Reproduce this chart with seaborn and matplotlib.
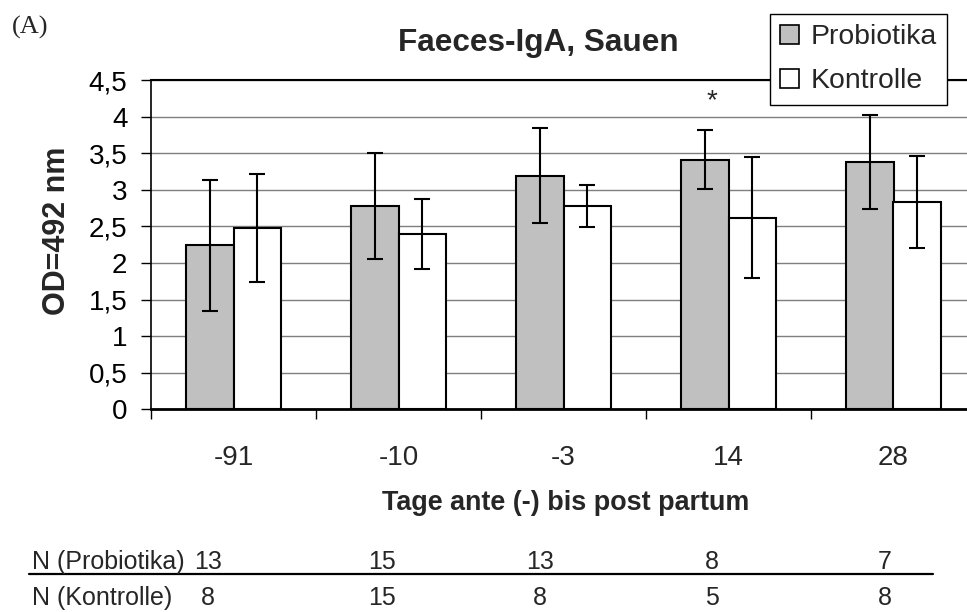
import numpy as np
import pandas as pd
import matplotlib
matplotlib.use("Agg")
import matplotlib.pyplot as plt
from matplotlib.patches import Patch
from matplotlib.lines import Line2D
from matplotlib.ticker import FuncFormatter
import seaborn as sns

# ---- data -------------------------------------------------------------
days = ["-91", "-10", "-3", "14", "28"]
groups = ["Probiotika", "Kontrolle"]
mean_probiotika = [2.24, 2.78, 3.19, 3.41, 3.38]
mean_kontrolle = [2.48, 2.40, 2.78, 2.62, 2.83]
sd_probiotika = [0.89, 0.72, 0.65, 0.40, 0.64]
sd_kontrolle = [0.74, 0.48, 0.29, 0.83, 0.63]
n_probiotika = [13, 15, 13, 8, 7]
n_kontrolle = [8, 15, 8, 5, 8]
significant_day = "14"

# ---- layout -----------------------------------------------------------
W, H = 967, 612
n_col_px = [208, 382, 540, 712, 885]  # x centres of the N columns

sns.set_style("white")
plt.rcParams["font.family"] = ["Liberation Sans", "DejaVu Sans"]

df = pd.DataFrame({
    "Tag": days * 2,
    "Gruppe": [groups[0]] * len(days) + [groups[1]] * len(days),
    "OD": mean_probiotika + mean_kontrolle,
})

fig = plt.figure(figsize=(W / 100, H / 100), dpi=100)
ax_left, ax_bottom, ax_top = 151, 409.3, 80
ax_w = 825
ax = fig.add_axes([ax_left / W, 1 - ax_bottom / H, ax_w / W, (ax_bottom - ax_top) / H])

sns.barplot(
    data=df, x="Tag", y="OD", hue="Gruppe", order=days, hue_order=groups,
    palette={"Probiotika": "#C0C0C0", "Kontrolle": "white"},
    edgecolor="black", linewidth=1.5, width=0.58, gap=0,
    errorbar=None, legend=False, ax=ax, zorder=2,
)

# standard deviation whiskers at each bar centre
for cont, means, sds in zip(ax.containers, [mean_probiotika, mean_kontrolle],
                            [sd_probiotika, sd_kontrolle]):
    xs = [b.get_x() + b.get_width() / 2 for b in cont]
    ax.errorbar(xs, means, yerr=sds, fmt="none", ecolor="black",
                elinewidth=1.5, capsize=5.5, capthick=1.5, zorder=3)

# significance marker
sig_i = days.index(significant_day)
ax.text(sig_i - 0.1, 4.21, "*", ha="center", va="center", fontsize=20, zorder=4)

# axes styling
ax.set_xlim(-0.5, 4.5)
ax.set_ylim(0, 4.5)
ax.set_yticks(np.arange(0, 4.51, 0.5))
ax.yaxis.set_major_formatter(FuncFormatter(
    lambda v, p: ("%g" % v).replace(".", ",")))
ax.yaxis.grid(True, color="#7f7f7f", linewidth=1)
ax.set_axisbelow(True)
ax.tick_params(axis="y", which="major", direction="out", length=7, width=1,
               labelsize=20, pad=10, left=True, colors="black")

ax.set_xticks(np.arange(-0.5, 4.6, 1.0))
ax.set_xticklabels([])
ax.set_xticks(np.arange(len(days)), minor=True)
ax.set_xticklabels(days, minor=True)
ax.tick_params(axis="x", which="major", direction="out", length=7, width=1,
               bottom=True, colors="black")
ax.tick_params(axis="x", which="minor", length=0, labelsize=20, pad=26)

ax.set_xlabel("")
ax.set_ylabel("")
for side in ["left", "top", "bottom"]:
    ax.spines[side].set_visible(True)
    ax.spines[side].set_color("black")
ax.spines["left"].set_linewidth(1.2)
ax.spines["top"].set_linewidth(1.5)
ax.spines["bottom"].set_linewidth(2)
ax.spines["right"].set_visible(False)

# titles and axis labels
fig.text(538 / W, 1 - 42.5 / H, "Faeces-IgA, Sauen", ha="center", va="center",
         fontsize=22.7, fontweight="bold")
fig.text(57 / W, 1 - 231 / H, "OD=492 nm", ha="center", va="center",
         rotation=90, fontsize=22, fontweight="bold")
fig.text(566 / W, 1 - 510 / H, "Tage ante (-) bis post partum", ha="center",
         va="baseline", fontsize=19.4, fontweight="bold")
fig.text(12 / W, 1 - 33.3 / H, "(A)", ha="left", va="baseline", fontsize=19,
         family=["Liberation Serif", "DejaVu Serif"])

# legend
handles = [Patch(facecolor="#C0C0C0", edgecolor="black", linewidth=1.2),
           Patch(facecolor="white", edgecolor="black", linewidth=1.2)]
leg = fig.legend(handles, groups, loc="upper right",
                 bbox_to_anchor=(946.7 / W, 1 - 14 / H),
                 bbox_transform=fig.transFigure, frameon=True, fancybox=False,
                 framealpha=1, edgecolor="black", fontsize=20.4,
                 handlelength=0.66, handleheight=0.66, handletextpad=0.4,
                 borderpad=0.36, labelspacing=0.64, borderaxespad=0)
leg.get_frame().set_linewidth(1)

# sample size table below the chart
fig.text(31.7 / W, 1 - 569 / H, "N (Probiotika)", ha="left", va="baseline",
         fontsize=18)
fig.text(31.7 / W, 1 - 605 / H, "N (Kontrolle)", ha="left", va="baseline",
         fontsize=18)
for xp, npb, nko in zip(n_col_px, n_probiotika, n_kontrolle):
    fig.text(xp / W, 1 - 569 / H, str(npb), ha="center", va="baseline", fontsize=18)
    fig.text(xp / W, 1 - 605 / H, str(nko), ha="center", va="baseline", fontsize=18)
fig.add_artist(Line2D([29 / W, 933 / W], [1 - 574.3 / H] * 2,
                      transform=fig.transFigure, color="black", linewidth=1.6))

fig.savefig("out.png", dpi=100)
